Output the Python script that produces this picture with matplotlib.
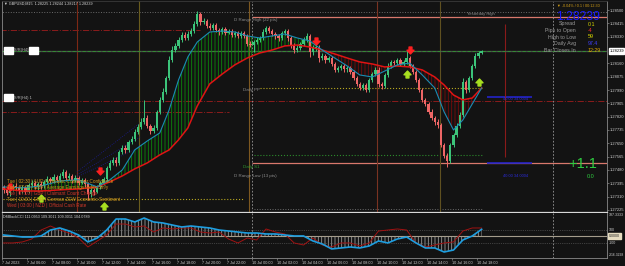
import matplotlib
matplotlib.use('Agg')
import matplotlib.pyplot as plt
import matplotlib.patches as mpatches
from matplotlib.path import Path
import numpy as np

# GBPUSD M15, 7 Jul 04:00 -> 10 Jul 18:15 (bar index 0..153)
first_open = 1.27372
closes = [
    1.27353, 1.27334, 1.27359, 1.27378, 1.27366, 1.27346, 1.27372, 1.27340, 1.27385, 1.27397,
    1.27372, 1.27391, 1.27378, 1.27404, 1.27423, 1.27410, 1.27436, 1.27417, 1.27442, 1.27468,
    1.27429, 1.27442, 1.27417, 1.27429, 1.27397, 1.27417, 1.27391, 1.27327, 1.27353, 1.27340,
    1.27372, 1.27397, 1.27423, 1.27493, 1.27525, 1.27544, 1.27525, 1.27595, 1.27621, 1.27608,
    1.27659, 1.27678, 1.27723, 1.27754, 1.27786, 1.27812, 1.27761, 1.27729, 1.27748, 1.27850,
    1.27927, 1.27978, 1.28067, 1.28182, 1.28245, 1.28271, 1.28309, 1.28341, 1.28322, 1.28347,
    1.28366, 1.28411, 1.28475, 1.28424, 1.28430, 1.28398, 1.28386, 1.28405, 1.28373, 1.28360,
    1.28379, 1.28354, 1.28366, 1.28341, 1.28354, 1.28335, 1.28354, 1.28335, 1.28284, 1.28277,
    1.28296, 1.28309, 1.28322, 1.28360, 1.28386, 1.28366, 1.28347, 1.28335, 1.28322, 1.28354,
    1.28366, 1.28322, 1.28277, 1.28245, 1.28258, 1.28284, 1.28309, 1.28335, 1.28233, 1.28258,
    1.28264, 1.28194, 1.28207, 1.28182, 1.28194, 1.28156, 1.28118, 1.28131, 1.28143, 1.28124,
    1.28131, 1.28105, 1.28067, 1.28029, 1.28003, 1.28022, 1.27990, 1.28054, 1.28092, 1.28118,
    1.28029, 1.28016, 1.28086, 1.28143, 1.28169, 1.28162, 1.28182, 1.28156, 1.28169, 1.28194,
    1.28143, 1.28105, 1.28054, 1.27990, 1.27927, 1.27901, 1.27850, 1.27812, 1.27786, 1.27767,
    1.27640, 1.27570, 1.27538, 1.27640, 1.27703, 1.27761, 1.27831, 1.28041, 1.27990, 1.28067,
    1.28143, 1.28207, 1.28226, 1.28239,
]
highs = [
    1.27385, 1.27366, 1.27372, 1.27391, 1.27397, 1.27378, 1.27385, 1.27378, 1.27397, 1.27417,
    1.27410, 1.27404, 1.27410, 1.27417, 1.27442, 1.27436, 1.27455, 1.27448, 1.27461, 1.27487,
    1.27480, 1.27461, 1.27455, 1.27448, 1.27442, 1.27429, 1.27429, 1.27404, 1.27366, 1.27366,
    1.27385, 1.27410, 1.27436, 1.27506, 1.27544, 1.27563, 1.27563, 1.27608, 1.27640, 1.27640,
    1.27672, 1.27697, 1.27742, 1.27774, 1.27812, 1.27927, 1.27831, 1.27774, 1.27767, 1.27863,
    1.27946, 1.28003, 1.28080, 1.28207, 1.28271, 1.28290, 1.28328, 1.28360, 1.28360, 1.28366,
    1.28386, 1.28430, 1.28494, 1.28488, 1.28449, 1.28443, 1.28417, 1.28417, 1.28417, 1.28386,
    1.28392, 1.28392, 1.28379, 1.28379, 1.28366, 1.28366, 1.28366, 1.28366, 1.28347, 1.28303,
    1.28309, 1.28328, 1.28335, 1.28379, 1.28398, 1.28398, 1.28379, 1.28360, 1.28347, 1.28366,
    1.28379, 1.28379, 1.28335, 1.28290, 1.28277, 1.28296, 1.28328, 1.28354, 1.28347, 1.28277,
    1.28284, 1.28277, 1.28226, 1.28220, 1.28207, 1.28207, 1.28169, 1.28143, 1.28156, 1.28156,
    1.28143, 1.28143, 1.28118, 1.28080, 1.28041, 1.28035, 1.28035, 1.28067, 1.28105, 1.28137,
    1.28137, 1.28041, 1.28099, 1.28162, 1.28182, 1.28182, 1.28194, 1.28194, 1.28182, 1.28245,
    1.28207, 1.28156, 1.28118, 1.28067, 1.28003, 1.27939, 1.27914, 1.27869, 1.27825, 1.27805,
    1.27780, 1.27652, 1.27589, 1.27652, 1.27716, 1.27780, 1.27850, 1.28067, 1.28054, 1.28080,
    1.28156, 1.28226, 1.28239, 1.28245,
]
lows = [
    1.27334, 1.27321, 1.27315, 1.27346, 1.27353, 1.27327, 1.27334, 1.27327, 1.27334, 1.27372,
    1.27359, 1.27353, 1.27359, 1.27366, 1.27391, 1.27391, 1.27397, 1.27404, 1.27404, 1.27429,
    1.27410, 1.27417, 1.27397, 1.27404, 1.27385, 1.27391, 1.27372, 1.27289, 1.27308, 1.27321,
    1.27334, 1.27359, 1.27385, 1.27410, 1.27480, 1.27512, 1.27506, 1.27512, 1.27582, 1.27589,
    1.27595, 1.27646, 1.27665, 1.27710, 1.27742, 1.27774, 1.27748, 1.27710, 1.27716, 1.27735,
    1.27837, 1.27914, 1.27965, 1.28054, 1.28169, 1.28233, 1.28258, 1.28296, 1.28309, 1.28309,
    1.28335, 1.28354, 1.28398, 1.28405, 1.28411, 1.28386, 1.28373, 1.28373, 1.28360, 1.28341,
    1.28347, 1.28341, 1.28347, 1.28328, 1.28328, 1.28322, 1.28322, 1.28322, 1.28271, 1.28264,
    1.28233, 1.28284, 1.28296, 1.28309, 1.28347, 1.28354, 1.28335, 1.28315, 1.28303, 1.28309,
    1.28341, 1.28303, 1.28258, 1.28226, 1.28233, 1.28245, 1.28271, 1.28296, 1.28201, 1.28213,
    1.28239, 1.28169, 1.28182, 1.28162, 1.28169, 1.28143, 1.28105, 1.28105, 1.28118, 1.28105,
    1.28105, 1.28092, 1.28054, 1.28016, 1.27990, 1.27990, 1.27978, 1.27978, 1.28041, 1.28080,
    1.28009, 1.27997, 1.28003, 1.28073, 1.28131, 1.28150, 1.28150, 1.28143, 1.28143, 1.28156,
    1.28131, 1.28092, 1.28041, 1.27978, 1.27914, 1.27888, 1.27837, 1.27799, 1.27767, 1.27748,
    1.27627, 1.27557, 1.27499, 1.27525, 1.27627, 1.27691, 1.27748, 1.27818, 1.27971, 1.27978,
    1.28054, 1.28131, 1.28194, 1.28220,
]

# moving averages
ma_bars = [0, 6, 12, 18, 24, 30, 34, 38, 42, 46, 50, 53, 56, 59, 62, 66, 70, 74, 78, 82,
           86, 90, 94, 98, 102, 106, 110, 114, 118, 122, 126, 130, 134, 138, 141, 144, 147, 150, 153]
ma_fast = [1.27372, 1.27366, 1.27378, 1.27410, 1.27417, 1.27372, 1.27417, 1.27480, 1.27608, 1.27665,
           1.27716, 1.27863, 1.28054, 1.28201, 1.28296, 1.28360, 1.28366, 1.28360, 1.28335, 1.28322,
           1.28335, 1.28347, 1.28322, 1.28303, 1.28245, 1.28194, 1.28143, 1.28086, 1.28073, 1.28111,
           1.28150, 1.28162, 1.28086, 1.28003, 1.27850, 1.27735, 1.27799, 1.27901, 1.28003]
ma_slow = [1.27359, 1.27346, 1.27346, 1.27353, 1.27359, 1.27372, 1.27404, 1.27442, 1.27487, 1.27525,
           1.27576, 1.27608, 1.27672, 1.27748, 1.27888, 1.28029, 1.28092, 1.28150, 1.28194, 1.28226,
           1.28245, 1.28271, 1.28277, 1.28264, 1.28245, 1.28220, 1.28194, 1.28169, 1.28156, 1.28137,
           1.28143, 1.28137, 1.28118, 1.28073, 1.28022, 1.27958, 1.27927, 1.27939, 1.28003]

# DMBackCCI sub window
cci_bars = list(range(0, 154, 3))
cci_main = [23, 8, -8, -8, 8, 98, 129, 83, 23, -83, -23, 98, 265, 265, 220, 280, 220, 205, 174, 144,
            159, 144, 129, 98, 83, 68, 53, 53, 38, 38, 23, 8, 8, -68, -114, -189, -174, -159, -174, -144,
            -68, -98, -38, -8, -98, -174, -174, -235, -205, -53, 8, 109]
cci_signal = [-98, -98, -83, -38, 98, 159, 98, 53, -23, -159, -68, 23, 189, 189, 144, 159, 68, 129, 114, 129,
              129, 68, 53, 68, -38, -98, -23, -53, 114, 68, 38, -98, -129, -23, -129, -159, -98, -98, -144, -98,
              83, 98, 114, 98, -98, -159, -129, -98, -83, 83, 129, 129]

time_labels = ['7 Jul 2023', '7 Jul 06:00', '7 Jul 08:00', '7 Jul 10:00', '7 Jul 12:00', '7 Jul 14:00',
               '7 Jul 16:00', '7 Jul 18:00', '7 Jul 20:00', '7 Jul 22:00', '10 Jul 00:00', '10 Jul 02:00',
               '10 Jul 04:00', '10 Jul 06:00', '10 Jul 08:00', '10 Jul 10:00', '10 Jul 12:00',
               '10 Jul 14:00', '10 Jul 16:00', '10 Jul 18:00']
time_label_bars = list(range(0, 153, 8))
price_ticks = [1.28500, 1.28415, 1.28330, 1.28160, 1.28075, 1.27990, 1.27905, 1.27820,
               1.27735, 1.27650, 1.27565, 1.27480, 1.27395, 1.27310, 1.27225]
bid = 1.28239

sell_bars = [2, 31, 100, 130]
sell_prices = [1.27372, 1.27474, 1.28303, 1.28245]
buy_bars = [12, 32, 129, 152]
buy_prices = [1.27302, 1.27251, 1.28092, 1.28041]

# (price, from bar, to bar, colour, style, width)
levels = [
    (1.28488, -1, 194, '#6a6a6a', ':', 0.7),
    (1.28456, 79.4, 194, '#d9786c', '-', 0.9),
    (1.28373, -1, 63, '#8a1c1c', '-.', 0.7),
    (1.28003, 82, 153, '#b8a820', ':', 0.8),
    (1.27946, 154.7, 169.1, '#2323c8', '-', 1.2),
    (1.27920, -1, 194, '#8a1c1c', '-.', 0.7),
    (1.27850, -1, 72, '#8a1c1c', '-.', 0.7),
    (1.27576, 80, 153, '#2c8a2c', ':', 0.8),
    (1.27525, 79.4, 194, '#d9786c', '-', 0.9),
    (1.27525, 154.7, 169.1, '#2323c8', '-', 1.2),
    (1.27295, -1, 77, '#b8a820', ':', 0.8),
    (1.27232, 80, 153, '#6a6a6a', ':', 0.7),
]
# (bar, colour)
vert_lines = [(23.5, '#7e2815'), (43.4, '#6a5c1e'), (78.6, '#7d5820'),
              (119.5, '#7a3322'), (139.7, '#5f5020')]
day_breaks = [79.5, 175.8]
fan_start = (23.5, [1.27467, 1.27448, 1.27436])
fan_end = (43.7, [1.27780, 1.27691, 1.27627])

news = [
    ('Tue | 02:30 | AUD | Westpac Consumer Confidence', '#d49a1e'),
    ('Tue | 07:00 | GBP | Average Earnings Index 3m/y', '#d49a1e'),
    ('Tue | 07:00 | GBP | Claimant Count Change', '#d0382a'),
    ('Tue | 10:00 | EUR | German ZEW Economic Sentiment', '#d49a1e'),
    ('Wed | 03:00 | NZD | Official Cash Rate', '#d0382a'),
]

W, H = 625, 266
BG = '#131313'
plt.rcParams['font.family'] = ['Liberation Sans', 'DejaVu Sans']
plt.rcParams['hatch.linewidth'] = 0.6
fig = plt.figure(figsize=(W / 100, H / 100), dpi=100, facecolor=BG)


def fx(x):
    return x / W


def fy(y):
    return 1 - y / H


def ftext(x, y, s, **kw):
    kw.setdefault('fontsize', 3.2)
    kw.setdefault('va', 'center')
    kw.setdefault('color', '#8c8c8c')
    fig.text(fx(x), fy(y), s, **kw)


ax = fig.add_axes([fx(2), fy(212), fx(607) - fx(2), fy(1) - fy(212)])
ax2 = fig.add_axes([fx(2), fy(258), fx(607) - fx(2), fy(213) - fy(258)])
for a in (ax, ax2):
    a.set_facecolor(BG)
    a.set_xlim(-0.48, 193.12)
    for s in a.spines.values():
        s.set_color('#8a8a8a')
        s.set_linewidth(0.6)
ax.set_ylim(1.27212, 1.285576)
ax2.set_ylim(-326, 356)
ax.spines['bottom'].set_color('#d8d8d8')
ax.spines['bottom'].set_linewidth(0.9)
ax.spines['top'].set_color('#3a3a3a')
ax2.spines['top'].set_visible(False)

# price axis
ax.yaxis.tick_right()
ax.set_yticks(price_ticks)
ax.set_yticklabels([f'{p:.5f}' for p in price_ticks])
ax.tick_params(axis='y', colors='#8a8a8a', labelcolor='#cfcfcf', labelsize=2.9, length=1.5, width=0.5, pad=0.6)
ax.set_xticks([])
ax.annotate(f'{bid:.5f}', xy=(1, bid), xycoords=('axes fraction', 'data'), xytext=(1.6, 0),
            textcoords='offset points', fontsize=2.9, color='black', va='center', ha='left',
            bbox=dict(boxstyle='square,pad=0.15', fc='white', ec='white'))

# levels / lines
for price, x0, x1, col, ls, lw in levels:
    ax.hlines(price, x0, x1, colors=col, linestyles=ls, linewidth=lw, zorder=1)
for b, col in vert_lines:
    ax.axvline(b, color=col, lw=0.8, zorder=1)
ax.vlines(160.5, 1.27563, 1.28411, colors='#8a1a1a', lw=0.8, zorder=1)
for b in day_breaks:
    ax.axvline(b, color='#9a9a9a', lw=0.6, ls=(0, (2, 2)), zorder=1)
    ax2.axvline(b, color='#9a9a9a', lw=0.6, ls=(0, (2, 2)), zorder=1)
ax.axhline(bid, color='#4a4a4a', lw=1.0, zorder=1)
ax.axhline(bid, color='#2f9a2f', lw=0.6, ls=(0, (4, 2)), zorder=1)
for p0, p1 in zip(fan_start[1], fan_end[1]):
    ax.plot([fan_start[0], fan_end[0]], [p0, p1], color='#1c1c90', lw=0.6, ls=':', zorder=1)

# MA cloud
mb = np.array(ma_bars)
mf = np.array(ma_fast)
ms = np.array(ma_slow)
ax.fill_between(mb, mf, ms, where=mf >= ms, interpolate=True, facecolor='none',
                edgecolor='#0a8a0a', hatch='|||||', linewidth=0, zorder=1.5)
ax.fill_between(mb, mf, ms, where=mf < ms, interpolate=True, facecolor='none',
                edgecolor='#7a0a0a', hatch='|||||', linewidth=0, zorder=1.5)

# candles
o = np.array([first_open] + closes[:-1])
c = np.array(closes)
bars = np.arange(len(c))
up = c >= o
col = np.where(up, '#3cc47a', '#ee6666')
ax.vlines(bars, lows, highs, colors=col, lw=0.7, zorder=2)
ax.bar(bars, np.maximum(np.abs(c - o), 0.000015), bottom=np.minimum(o, c), width=0.72,
       color=col, linewidth=0, zorder=2)

ax.plot(mb, ms, color='#e01414', lw=1.1, zorder=3)
ax.plot(mb, mf, color='#1a8cb4', lw=0.8, zorder=3)

# signal arrows
dn = Path([(-0.25, 0.6), (0.25, 0.6), (0.25, 0.05), (0.6, 0.05), (0, -0.6), (-0.6, 0.05),
           (-0.25, 0.05), (-0.25, 0.6)], closed=True)
upm = Path([(x, -y) for x, y in dn.vertices], closed=True)
ax.plot(sell_bars, sell_prices, ls='none', marker=dn, ms=5, color='#ff2020', zorder=4)
ax.plot(buy_bars, buy_prices, ls='none', marker=upm, ms=5, color='#a8e020', zorder=4)

# CCI window
cb = np.array(cci_bars)
cm = np.array(cci_main)
ax2.fill_between(cb, 0, cm, facecolor='none', edgecolor='#9a9a9a', hatch='|||||', linewidth=0, zorder=1)
ax2.axhline(100, color='#6a6a6a', lw=0.5, ls=':')
ax2.axhline(-100, color='#6a6a6a', lw=0.5, ls=':')
ax2.axhline(0, color='#a49c8c', lw=0.8)
ax2.plot(cb, cci_signal, color='#a01212', lw=0.7, zorder=2)
ax2.plot(cb, cm, color='#1e9ee0', lw=1.2, zorder=3)
ax2.set_yticks([])
ax2.set_xticks([b - 0.5 for b in time_label_bars])
ax2.set_xticklabels(time_labels)
ax2.tick_params(axis='x', colors='#8a8a8a', labelcolor='#d0d0d0', labelsize=2.7, length=1.5, width=0.5, pad=0.6)
for lab in ax2.get_xticklabels():
    lab.set_ha('left')

# sub window labels
ftext(3, 217, 'DMBackCCI 111.0953 109.3011 109.3011 104.0789', color='#d0d0d0', fontsize=2.7)
ftext(609, 215, '187.3333', color='#cfcfcf', fontsize=2.6)
ftext(609, 230, '100', color='#cfcfcf', fontsize=2.6)
ftext(609, 243, '-100', color='#cfcfcf', fontsize=2.6)
ftext(609, 255, '-316.3298', color='#cfcfcf', fontsize=2.4)
fig.text(fx(609), fy(236), '0.0000', fontsize=2.6, va='center', color='#202020',
         bbox=dict(boxstyle='square,pad=0.15', fc='#e6dcc0', ec='#e6dcc0'))

# chart header and object labels
ftext(4, 4, '\u25bc GBPUSD,M15  1.28225 1.28244 1.28217 1.28239', color='#d8d8d8', fontsize=2.7)
ftext(234, 20, 'D Range High (22 pts)')
ftext(467, 14, 'Yesterday High', fontsize=3)
ftext(243, 90, 'Daily PP')
ftext(243, 167, 'Daily S1', color='#2f9a2f')
ftext(234, 176, 'D Range Low (13 pts)')
ftext(503, 99, '40.00 34.0004', color='#2a2ad8', fontsize=2.9)
ftext(503, 176, '40.00 34.0004', color='#2a2ad8', fontsize=2.9)
for x0, y0, w, h in [(4, 47, 9, 7), (29, 47, 9, 7), (4, 94, 9, 7)]:
    fig.add_artist(mpatches.Rectangle((fx(x0), fy(y0 + h)), w / W, h / H, transform=fig.transFigure,
                                      color='white', zorder=5))
ftext(14, 50.5, 'S/R(H4) Sup', color='#bdbdbd', fontsize=2.8)
ftext(14, 98, 'S/R(H4) 1', color='#bdbdbd', fontsize=2.8)

for k, (txt, colr) in enumerate(news):
    ftext(7, 181 + 6 * k, txt, color=colr, fontsize=3.3)

# info panel
ftext(557, 6, '\u25bc -0.04% / 0.1 / 00:12:30', color='#d4a017', fontsize=2.7)
ftext(556, 17, '1.28239', color='#1a1aff', fontsize=8.8)
info_rows = [('Spread', '0.1', '#d8d800'), ('Pips to Open', '-4', '#ff3030'),
             ('High to Low', '59', '#d8d800'), ('Daily Avg', '97.4', '#4040ff'),
             ('Bar Closes In', '12:29', '#d8a000')]
for k, (lab, val, vc) in enumerate(info_rows):
    yy = 24 + k * 6.5
    ftext(576, yy, lab, ha='right', color='#9a9a9a', fontsize=3.8)
    ftext(588, yy, val, color=vc, fontsize=3.8)
ftext(568, 164, '+1.1', color='#2ecc40', fontsize=10.5)
ftext(587, 176, '0.0', color='#2ecc40', fontsize=4)

fig.savefig('out.png', dpi=100, facecolor=BG)
